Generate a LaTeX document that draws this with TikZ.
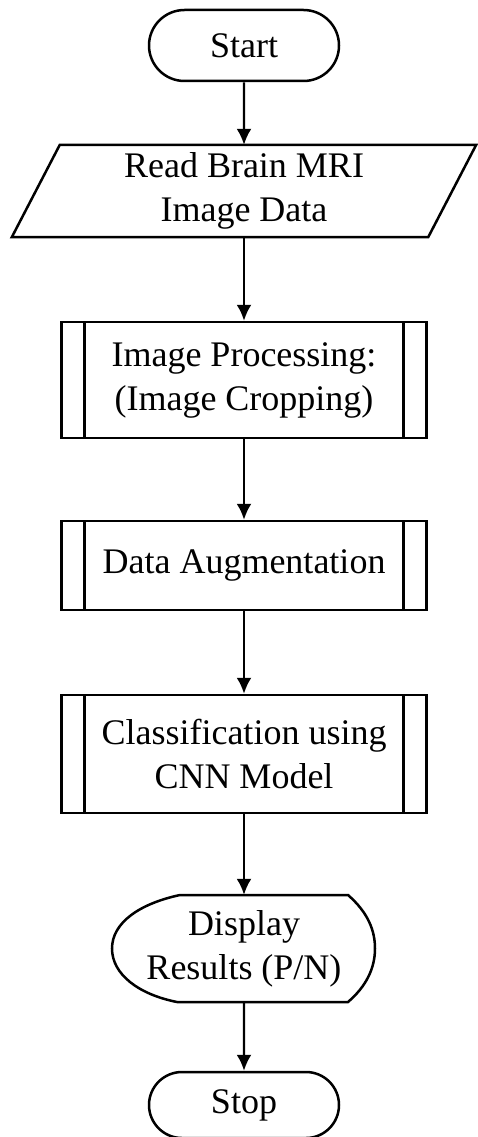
\documentclass[tikz,border=0pt]{standalone}
\usepackage{fontspec}
\setmainfont{Liberation Serif}
\usetikzlibrary{shapes.misc,arrows.meta,calc}
\begin{document}
\begin{tikzpicture}[x=1pt,y=-1pt,
  every node/.style={font=\fontsize{36}{44}\selectfont, align=center, inner sep=0pt, text=black},
  line/.style={line width=2.5pt, draw=black},
  term/.style={line, rounded rectangle, minimum width=190pt, minimum height=71pt},
  proc/.style={line, rectangle, minimum width=365pt,
    path picture={\draw[line width=2.5pt]
      ([xshift=23pt]path picture bounding box.north west) -- ([xshift=23pt]path picture bounding box.south west)
      ([xshift=-23pt]path picture bounding box.north east) -- ([xshift=-23pt]path picture bounding box.south east);}},
  arr/.style={line width=2.3pt, draw=black, -{Latex[length=16pt,width=15pt]}}]
\useasboundingbox[fill=white] (0,0) rectangle (478,1137);

\node[term] (start) at (244,45.5) {Start};

\node[minimum width=416pt, minimum height=92pt] (read) at (244,191) {Read Brain MRI\\Image Data};
\draw[line] ($(read.north west)+(24,0)$) -- ($(read.north east)+(24,0)$)
  -- ($(read.south east)+(-24,0)$) -- ($(read.south west)+(-24,0)$) -- cycle;

\node[proc, minimum height=116pt] (p1) at (244,380) {Image Processing:\\(Image Cropping)};
\node[proc, minimum height=89pt] (p2) at (244,565.5) {Data Augmentation};
\node[proc, minimum height=118pt] (p3) at (244,754) {Classification using\\CNN Model};

\node[minimum width=263pt, minimum height=107pt] (disp) at (244,948.5) {Display\\Results (P/N)};
\draw[line, shift={(disp.center)}] (-64,-53.5) -- (104,-53.5)
  .. controls (124,-36) and (131,-18) .. (131,0)
  .. controls (131,20) and (122,38) .. (104,53.5)
  -- (-67,53.5)
  .. controls (-105,46) and (-132,26) .. (-132,0)
  .. controls (-132,-26) and (-104,-45) .. (-64,-53.5) -- cycle;

\node[term, minimum height=66pt] (stop) at (244,1105) {Stop};

\draw[arr] (start) -- (read.north);
\draw[arr] (read.south) -- (p1);
\draw[arr] (p1) -- (p2);
\draw[arr] (p2) -- (p3);
\draw[arr] (p3) -- (disp.north);
\draw[arr] (disp.south) -- (stop);
\end{tikzpicture}
\end{document}
